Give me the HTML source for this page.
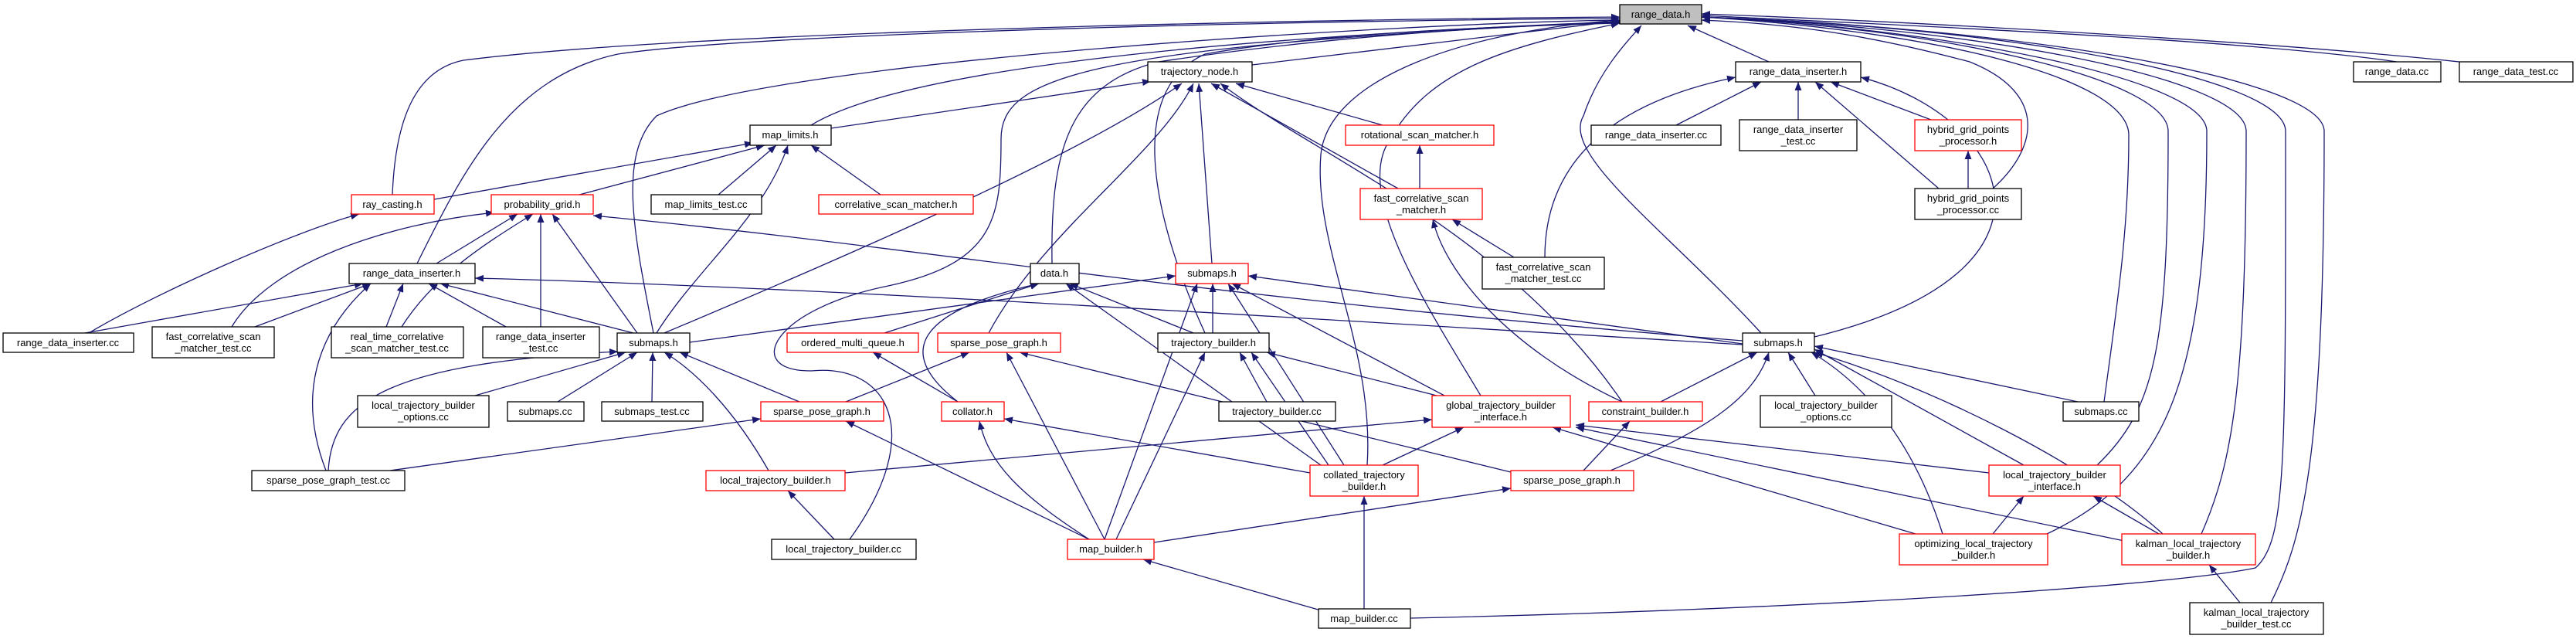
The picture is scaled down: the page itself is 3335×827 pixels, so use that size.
<!DOCTYPE html>
<html><head><meta charset="utf-8"><style>
html,body{margin:0;padding:0;background:#fff;}
svg{display:block;}
text{font-family:"Liberation Sans",sans-serif;font-size:13px;fill:#000;text-anchor:middle;}
.e{fill:none;stroke:#191970;stroke-width:1.3;marker-end:url(#a);}
.n{fill:#fff;stroke:#000;stroke-width:1.3;}
.r{fill:#fff;stroke:#ff0000;stroke-width:1.3;}
</style></head><body>
<svg width="3335" height="827" viewBox="0 0 3335 827" xmlns="http://www.w3.org/2000/svg">
<defs><marker id="a" markerUnits="userSpaceOnUse" markerWidth="12" markerHeight="9" refX="11" refY="4.5" orient="auto"><path d="M0,0 L11,4.5 L0,9 z" fill="#191970"/></marker></defs>
<g>
<!-- into range_data.h -->
<path class="e" d="M508,252 C512,150 540,90 600,78 C900,40 1700,25 2097,22"/>
<path class="e" d="M540,341 C600,220 660,100 800,70 C1000,40 1800,25 2097,24"/>
<path class="e" d="M846,431 C820,300 800,200 850,150 C1000,80 1800,30 2097,26"/>
<path class="e" d="M1050,162 C1200,70 1800,40 2097,28"/>
<path class="e" d="M1621,84 L2097,27"/>
<path class="e" d="M1362,341 C1360,200 1380,110 1500,80 C1700,50 1900,35 2097,29"/>
<path class="e" d="M1560,431 C1500,300 1450,120 1560,70 C1700,45 1900,35 2097,30"/>
<path class="e" d="M1100,698 C1200,560 1150,470 1050,480 C960,480 1000,400 1150,370 C1290,340 1296,280 1296,180 C1296,100 1400,60 2097,28"/>
<path class="e" d="M1917,512 C1850,400 1750,250 1800,180 C1850,90 1950,60 2097,30"/>
<path class="e" d="M2290,80 L2185,33"/>
<path class="e" d="M2280,431 C2160,300 2020,200 2050,150 C2070,90 2110,50 2125,33"/>
<path class="e" d="M1770,602 C1780,450 1700,320 1710,200 C1720,100 1900,40 2097,26"/>
<path class="e" d="M3103,80 C2900,50 2400,30 2203,20"/>
<path class="e" d="M3184,80 C2900,50 2400,25 2203,18"/>
<path class="e" d="M2580,244 C2640,190 2650,120 2550,80 C2400,40 2300,30 2203,26"/>
<path class="e" d="M2724,520 C2740,400 2756,300 2756,175 C2756,100 2500,40 2203,22"/>
<path class="e" d="M2715,602 C2790,530 2807,450 2807,170 C2807,100 2500,35 2203,22"/>
<path class="e" d="M2650,691 C2800,620 2857,500 2857,170 C2857,100 2500,35 2203,22"/>
<path class="e" d="M2850,691 C2890,600 2908,500 2908,170 C2908,100 2550,35 2203,22"/>
<path class="e" d="M1826,800 C2300,790 2800,760 2920,735 C2960,700 2959,600 2959,170 C2959,100 2600,35 2203,22"/>
<path class="e" d="M2940,780 C2980,700 3009,600 3009,170 C3009,100 2600,35 2203,22"/>
<!-- trajectory_node.h -->
<path class="e" d="M1076,166 L1490,105"/>
<path class="e" d="M860,431 C1100,330 1400,200 1530,108"/>
<path class="e" d="M1280,431 C1350,300 1500,200 1545,108"/>
<path class="e" d="M1569,341 L1552,108"/>
<path class="e" d="M1810,244 L1568,108"/>
<path class="e" d="M2100,520 C1950,300 1700,200 1580,108"/>
<path class="e" d="M1790,162 L1600,108"/>
<!-- map_limits.h -->
<path class="e" d="M562,258 L975,185"/>
<path class="e" d="M750,252 L990,188"/>
<path class="e" d="M930,252 L1005,188"/>
<path class="e" d="M1140,252 L1050,188"/>
<path class="e" d="M850,431 C900,350 990,280 1020,188"/>
<!-- probability_grid.h -->
<path class="e" d="M565,341 L670,277"/>
<path class="e" d="M300,423 C350,340 500,290 640,275"/>
<path class="e" d="M520,423 C560,360 620,320 690,277"/>
<path class="e" d="M700,423 L700,277"/>
<path class="e" d="M825,431 L715,277"/>
<path class="e" d="M2256,441 C1500,380 1200,320 768,279"/>
<!-- range_data_inserter.h L -->
<path class="e" d="M110,431 L470,367"/>
<path class="e" d="M330,423 L480,367"/>
<path class="e" d="M500,423 L522,367"/>
<path class="e" d="M655,423 L555,367"/>
<path class="e" d="M820,431 L570,367"/>
<path class="e" d="M422,609 C380,500 420,420 480,367"/>
<path class="e" d="M2256,446 C1500,400 1000,370 615,360"/>
<path class="e" d="M115,431 C200,380 380,300 465,277"/>
<!-- submaps.h L -->
<path class="e" d="M615,512 L810,456"/>
<path class="e" d="M722,520 L825,456"/>
<path class="e" d="M844,520 L845,456"/>
<path class="e" d="M425,609 C430,520 500,470 800,455"/>
<path class="e" d="M1035,520 L880,456"/>
<path class="e" d="M995,609 C950,530 900,480 860,456"/>
<path class="e" d="M893,443 L1522,357"/>
<!-- data.h -->
<path class="e" d="M1145,431 L1345,367"/>
<path class="e" d="M1240,520 C1150,450 1200,400 1345,367"/>
<path class="e" d="M1545,431 L1385,367"/>
<path class="e" d="M1710,602 L1380,367"/>
<!-- submaps.h red -->
<path class="e" d="M1570,431 L1570,367"/>
<path class="e" d="M1870,512 L1595,367"/>
<path class="e" d="M1430,698 L1550,367"/>
<path class="e" d="M1740,602 L1590,367"/>
<path class="e" d="M2256,445 L1616,357"/>
<!-- trajectory_builder.h -->
<path class="e" d="M1640,520 L1605,456"/>
<path class="e" d="M1445,698 L1560,456"/>
<path class="e" d="M1720,602 L1620,456"/>
<path class="e" d="M1860,512 L1640,456"/>
<!-- sparse_pose_graph a -->
<path class="e" d="M1095,520 L1255,456"/>
<path class="e" d="M1430,698 L1303,456"/>
<path class="e" d="M1960,612 L1320,456"/>
<path class="e" d="M1240,520 L1130,456"/>
<path class="e" d="M1410,698 C1320,640 1280,600 1268,545"/>
<path class="e" d="M1696,612 L1300,542"/>
<path class="e" d="M1410,698 L1095,545"/>
<path class="e" d="M505,609 L985,542"/>
<path class="e" d="M1080,698 L1020,635"/>
<!-- global_trajectory_builder_interface.h -->
<path class="e" d="M1094,612 L1854,543"/>
<path class="e" d="M1790,602 L1895,553"/>
<path class="e" d="M2480,691 L2010,553"/>
<path class="e" d="M2750,700 L2040,553"/>
<path class="e" d="M2575,612 L2040,550"/>
<path class="e" d="M2050,609 L2110,545"/>
<path class="e" d="M1960,333 L1880,284"/>
<path class="e" d="M2100,520 C1950,450 1870,350 1855,284"/>
<path class="e" d="M1838,244 L1838,188"/>
<!-- range_data_inserter.h R -->
<path class="e" d="M2170,162 L2280,106"/>
<path class="e" d="M2328,155 L2328,106"/>
<path class="e" d="M2500,155 L2370,106"/>
<path class="e" d="M2510,244 L2350,106"/>
<path class="e" d="M2000,333 C2000,200 2100,130 2247,100"/>
<path class="e" d="M2349,436 C2700,350 2600,150 2409,100"/>
<path class="e" d="M2548,244 L2548,195"/>
<!-- submaps.h R -->
<path class="e" d="M2150,520 L2275,456"/>
<path class="e" d="M2085,609 C2200,560 2270,520 2290,456"/>
<path class="e" d="M2350,512 L2315,456"/>
<path class="e" d="M2690,520 L2349,448"/>
<path class="e" d="M2620,602 L2349,452"/>
<path class="e" d="M2515,691 C2480,580 2420,500 2345,456"/>
<path class="e" d="M2800,691 C2700,600 2500,500 2349,456"/>
<path class="e" d="M1494,702 L1956,632"/>
<path class="e" d="M1766,788 L1766,642"/>
<path class="e" d="M1710,790 L1480,724"/>
<path class="e" d="M2580,691 L2620,642"/>
<path class="e" d="M2795,691 L2710,642"/>
<path class="e" d="M2900,780 L2860,731"/>
</g>
<g>
<rect x="2097" y="6" width="106" height="25" fill="#bfbfbf" stroke="#000" stroke-width="1.3"/><text x="2150" y="23">range_data.h</text>
<rect class="r" x="455" y="252" width="107" height="25"/><text x="508" y="269">ray_casting.h</text>
<rect class="r" x="636" y="252" width="132" height="25"/><text x="702" y="269">probability_grid.h</text>
<rect class="n" x="452" y="341" width="163" height="26"/><text x="533" y="358">range_data_inserter.h</text>
<rect class="n" x="4" y="431" width="169" height="25"/><text x="88" y="448">range_data_inserter.cc</text>
<rect class="n" x="197" y="423" width="158" height="40"/><text x="276" y="440">fast_correlative_scan</text><text x="276" y="455">_matcher_test.cc</text>
<rect class="n" x="429" y="423" width="171" height="40"/><text x="514" y="440">real_time_correlative</text><text x="514" y="455">_scan_matcher_test.cc</text>
<rect class="n" x="625" y="423" width="151" height="40"/><text x="700" y="440">range_data_inserter</text><text x="700" y="455">_test.cc</text>
<rect class="n" x="799" y="431" width="94" height="25"/><text x="846" y="448">submaps.h</text>
<rect class="n" x="463" y="512" width="170" height="41"/><text x="548" y="529">local_trajectory_builder</text><text x="548" y="544">_options.cc</text>
<rect class="n" x="657" y="520" width="99" height="25"/><text x="706" y="537">submaps.cc</text>
<rect class="n" x="779" y="520" width="131" height="25"/><text x="844" y="537">submaps_test.cc</text>
<rect class="n" x="326" y="609" width="198" height="26"/><text x="425" y="626">sparse_pose_graph_test.cc</text>
<rect class="n" x="1486" y="80" width="135" height="26"/><text x="1553" y="97">trajectory_node.h</text>
<rect class="n" x="971" y="162" width="105" height="26"/><text x="1023" y="179">map_limits.h</text>
<rect class="n" x="843" y="252" width="143" height="25"/><text x="914" y="269">map_limits_test.cc</text>
<rect class="r" x="1060" y="252" width="200" height="25"/><text x="1160" y="269">correlative_scan_matcher.h</text>
<rect class="n" x="1334" y="341" width="63" height="26"/><text x="1365" y="358">data.h</text>
<rect class="r" x="1522" y="341" width="94" height="26"/><text x="1569" y="358">submaps.h</text>
<rect class="r" x="1019" y="431" width="170" height="25"/><text x="1104" y="448">ordered_multi_queue.h</text>
<rect class="r" x="1214" y="431" width="159" height="25"/><text x="1293" y="448">sparse_pose_graph.h</text>
<rect class="n" x="1499" y="431" width="144" height="25"/><text x="1571" y="448">trajectory_builder.h</text>
<rect class="r" x="985" y="520" width="159" height="25"/><text x="1064" y="537">sparse_pose_graph.h</text>
<rect class="r" x="1219" y="520" width="81" height="25"/><text x="1259" y="537">collator.h</text>
<rect class="n" x="1578" y="520" width="151" height="25"/><text x="1653" y="537">trajectory_builder.cc</text>
<rect class="r" x="914" y="609" width="180" height="26"/><text x="1004" y="626">local_trajectory_builder.h</text>
<rect class="n" x="999" y="698" width="187" height="26"/><text x="1092" y="715">local_trajectory_builder.cc</text>
<rect class="r" x="1382" y="698" width="112" height="26"/><text x="1438" y="715">map_builder.h</text>
<rect class="r" x="1742" y="162" width="192" height="26"/><text x="1838" y="179">rotational_scan_matcher.h</text>
<rect class="n" x="2247" y="80" width="162" height="26"/><text x="2328" y="97">range_data_inserter.h</text>
<rect class="n" x="2060" y="162" width="168" height="26"/><text x="2144" y="179">range_data_inserter.cc</text>
<rect class="n" x="2252" y="155" width="152" height="40"/><text x="2328" y="172">range_data_inserter</text><text x="2328" y="187">_test.cc</text>
<rect class="r" x="2479" y="155" width="138" height="40"/><text x="2548" y="172">hybrid_grid_points</text><text x="2548" y="187">_processor.h</text>
<rect class="r" x="1761" y="244" width="158" height="40"/><text x="1840" y="261">fast_correlative_scan</text><text x="1840" y="276">_matcher.h</text>
<rect class="n" x="2479" y="244" width="138" height="40"/><text x="2548" y="261">hybrid_grid_points</text><text x="2548" y="276">_processor.cc</text>
<rect class="n" x="1919" y="333" width="158" height="41"/><text x="1998" y="350">fast_correlative_scan</text><text x="1998" y="365">_matcher_test.cc</text>
<rect class="n" x="2256" y="431" width="93" height="25"/><text x="2302" y="448">submaps.h</text>
<rect class="r" x="1854" y="512" width="179" height="41"/><text x="1943" y="529">global_trajectory_builder</text><text x="1943" y="544">_interface.h</text>
<rect class="r" x="2057" y="520" width="147" height="25"/><text x="2130" y="537">constraint_builder.h</text>
<rect class="n" x="2279" y="512" width="170" height="41"/><text x="2364" y="529">local_trajectory_builder</text><text x="2364" y="544">_options.cc</text>
<rect class="r" x="1696" y="602" width="140" height="40"/><text x="1766" y="619">collated_trajectory</text><text x="1766" y="634">_builder.h</text>
<rect class="r" x="1956" y="609" width="159" height="26"/><text x="2035" y="626">sparse_pose_graph.h</text>
<rect class="r" x="2459" y="691" width="192" height="40"/><text x="2555" y="708">optimizing_local_trajectory</text><text x="2555" y="723">_builder.h</text>
<rect class="n" x="1707" y="788" width="119" height="25"/><text x="1766" y="805">map_builder.cc</text>
<rect class="n" x="3047" y="80" width="113" height="26"/><text x="3103" y="97">range_data.cc</text>
<rect class="n" x="3184" y="80" width="147" height="26"/><text x="3257" y="97">range_data_test.cc</text>
<rect class="n" x="2671" y="520" width="98" height="25"/><text x="2720" y="537">submaps.cc</text>
<rect class="r" x="2575" y="602" width="170" height="40"/><text x="2660" y="619">local_trajectory_builder</text><text x="2660" y="634">_interface.h</text>
<rect class="r" x="2747" y="691" width="173" height="40"/><text x="2833" y="708">kalman_local_trajectory</text><text x="2833" y="723">_builder.h</text>
<rect class="n" x="2835" y="780" width="173" height="41"/><text x="2921" y="797">kalman_local_trajectory</text><text x="2921" y="812">_builder_test.cc</text>
</g>
</svg>
</body></html>
